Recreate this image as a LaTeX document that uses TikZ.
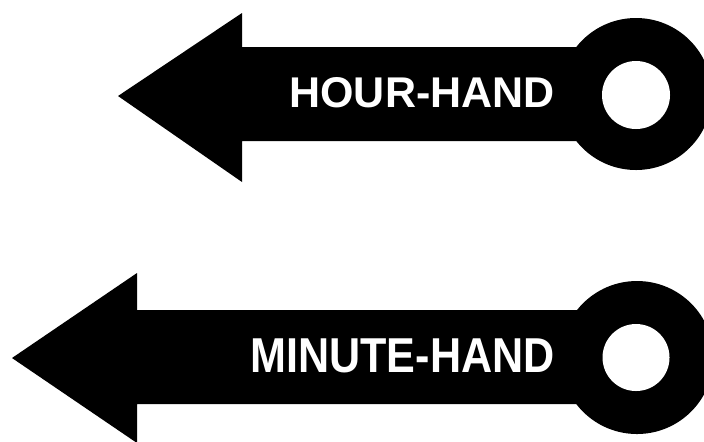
\documentclass[tikz,border=0pt]{standalone}
\usepackage{fontspec}
\setmainfont{Liberation Sans}
\usetikzlibrary{positioning}

\begin{document}
\begin{tikzpicture}[x=0.5pt, y=-0.5pt,
        hand/.style={fill=black},
        hole/.style={fill=white},
        lbl/.style={text=white, font=\fontsize{21.5}{24}\selectfont\bfseries, inner sep=0pt, anchor=east}]
        \useasboundingbox (0,0) rectangle (704,441);
        \clip (0,0) rectangle (704,441);
        % Hour hand
        \fill[hand] (118,96) -- (242,13) -- (242,47) -- (610,47) -- (610,141) -- (242,141) -- (242,182) -- cycle;
        \fill[hand] (636,94) circle (76);
        \fill[hole] (636,95) circle (34);
        \node[lbl] (hour) at (555,92.5) {HOUR-HAND};
        % Minute hand
        \fill[hand] (12,358) -- (137,273) -- (137,310) -- (610,310) -- (610,404) -- (137,404) -- (137,443) -- cycle;
        \fill[hand] (637,357.5) circle (76.5);
        \fill[hole] (636,357.5) circle (33.5);
        \node[lbl, font=\fontsize{24.5}{27}\selectfont\bfseries, xscale=0.88] (minute) at (555,355.5) {MINUTE-HAND};
    \end{tikzpicture}
\end{document}
